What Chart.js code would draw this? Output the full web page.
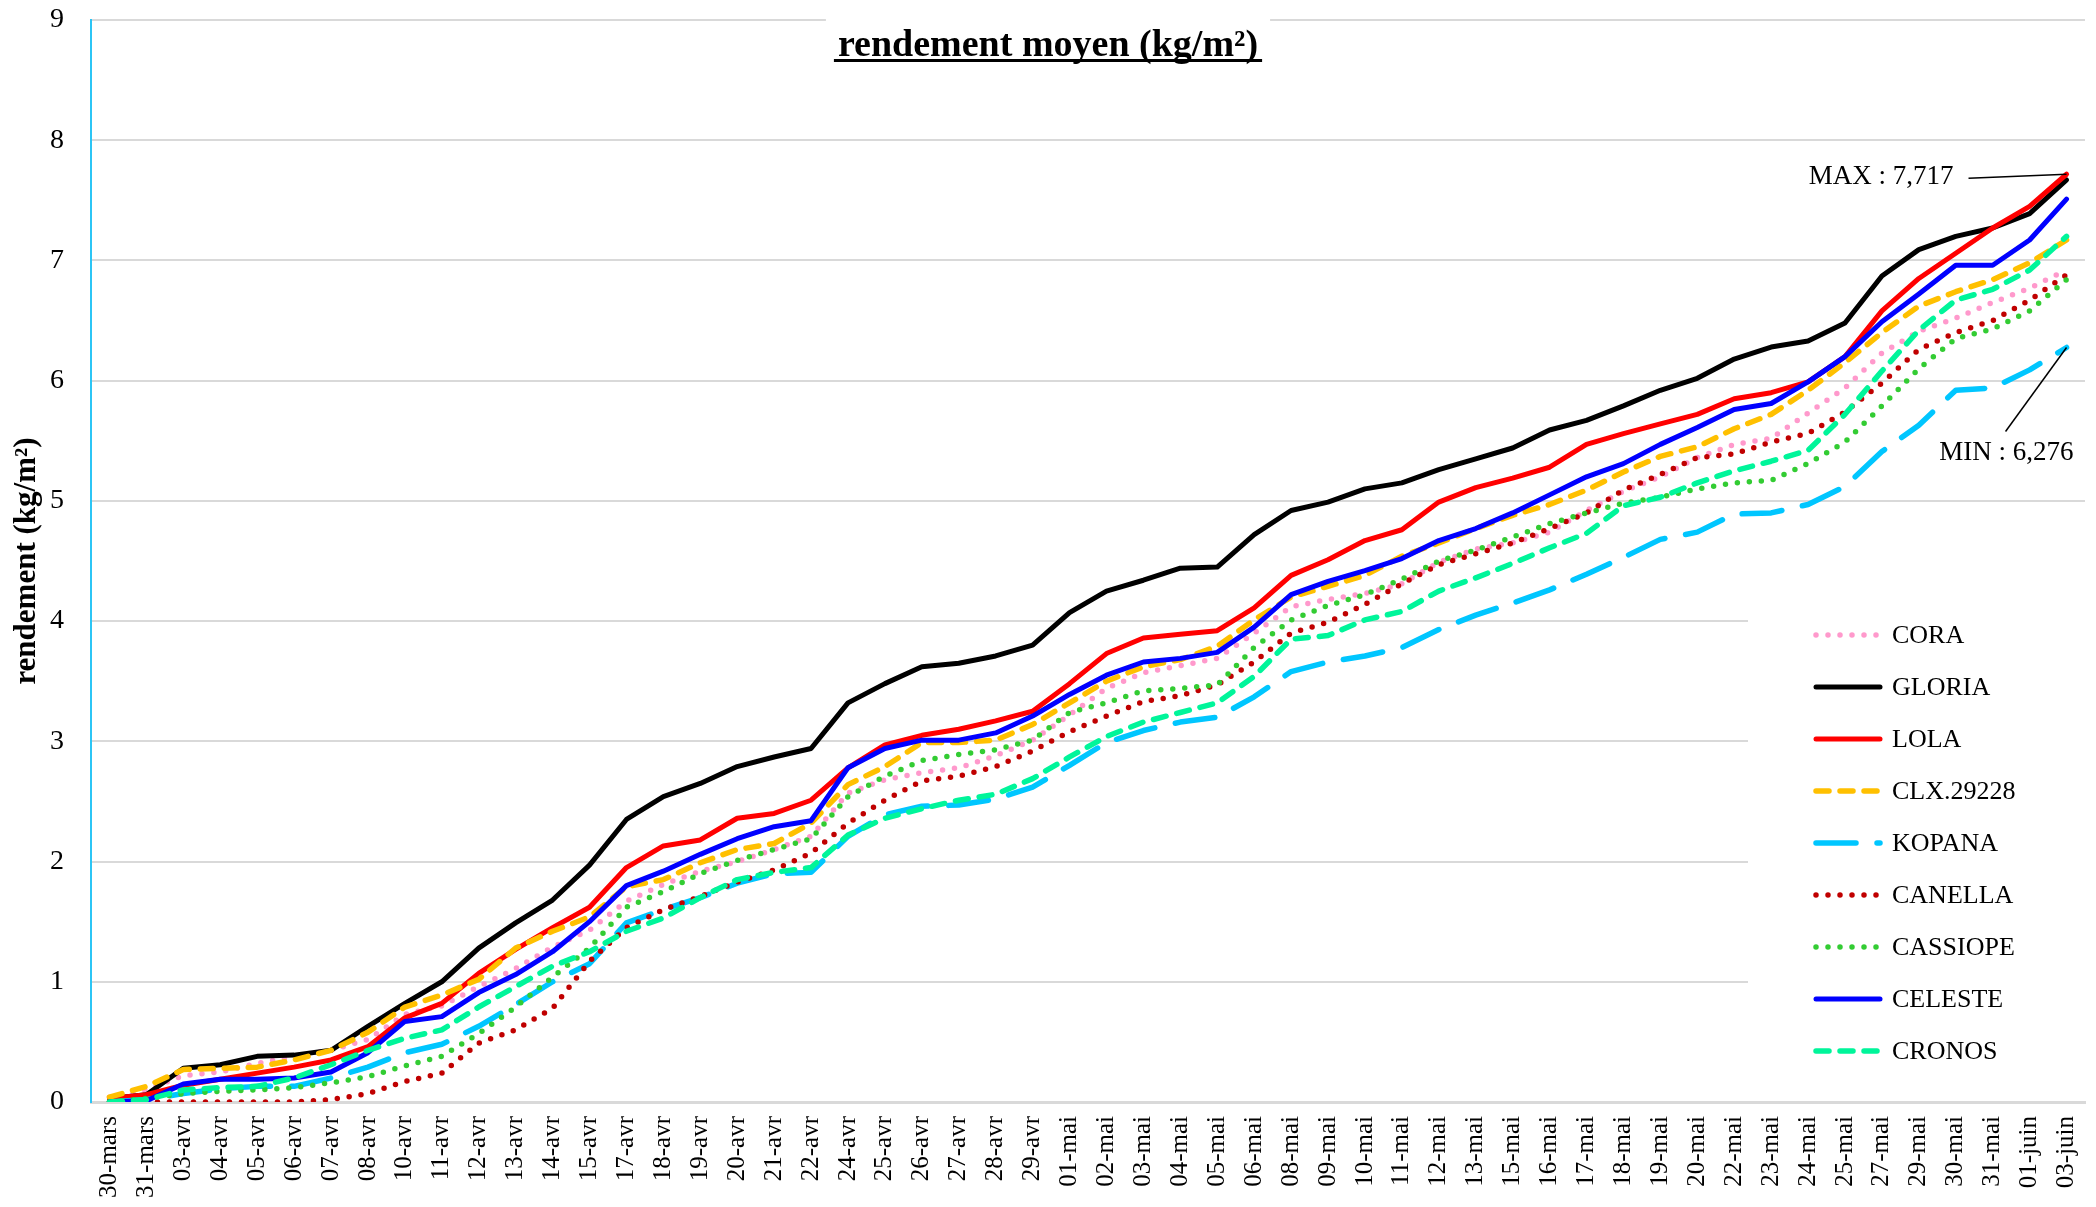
<!DOCTYPE html>
<html lang="fr">
<head>
<meta charset="utf-8">
<title>rendement moyen (kg/m²)</title>
<script src="https://cdn.jsdelivr.net/npm/chart.js@4.4.1/dist/chart.umd.min.js"></script>
<style>
  html, body { margin: 0; padding: 0; background: #fff; }
</style>
</head>
<body>
<canvas id="line-chart-rendement" width="2096" height="1207"></canvas>
<script>
// Données (rendement cumulé, kg/m²)
const dates = ['30-mars', '31-mars', '03-avr', '04-avr', '05-avr', '06-avr', '07-avr', '08-avr', '10-avr', '11-avr',
  '12-avr', '13-avr', '14-avr', '15-avr', '17-avr', '18-avr', '19-avr', '20-avr', '21-avr', '22-avr',
  '24-avr', '25-avr', '26-avr', '27-avr', '28-avr', '29-avr', '01-mai', '02-mai', '03-mai', '04-mai',
  '05-mai', '06-mai', '08-mai', '09-mai', '10-mai', '11-mai', '12-mai', '13-mai', '15-mai', '16-mai',
  '17-mai', '18-mai', '19-mai', '20-mai', '22-mai', '23-mai', '24-mai', '25-mai', '27-mai', '29-mai',
  '30-mai', '31-mai', '01-juin', '03-juin'];

const cora = [0.04, 0.10, 0.22, 0.25, 0.32, 0.38, 0.43, 0.52, 0.73, 0.80, 0.96, 1.11, 1.29, 1.43, 1.67, 1.81, 1.92, 2.00,
  2.10, 2.21, 2.57, 2.68, 2.74, 2.78, 2.88, 3.01, 3.22, 3.44, 3.57, 3.63, 3.69, 3.90, 4.12, 4.18, 4.23, 4.31,
  4.49, 4.60, 4.65, 4.74, 4.92, 5.08, 5.20, 5.36, 5.47, 5.52, 5.73, 5.94, 6.23, 6.41, 6.52, 6.65, 6.77, 6.92];
const gloria = [0.03, 0.06, 0.28, 0.31, 0.38, 0.39, 0.43, 0.63, 0.82, 1.00, 1.28, 1.49, 1.68, 1.97, 2.35, 2.54, 2.65, 2.79,
  2.87, 2.94, 3.32, 3.48, 3.62, 3.65, 3.71, 3.80, 4.07, 4.25, 4.34, 4.44, 4.45, 4.72, 4.92, 4.99, 5.10, 5.15,
  5.26, 5.35, 5.44, 5.59, 5.67, 5.79, 5.92, 6.02, 6.18, 6.28, 6.33, 6.48, 6.87, 7.09, 7.20, 7.27, 7.39, 7.67];
const lola = [0.03, 0.06, 0.14, 0.19, 0.24, 0.29, 0.35, 0.46, 0.70, 0.82, 1.07, 1.27, 1.45, 1.62, 1.95, 2.13, 2.18, 2.36,
  2.40, 2.51, 2.78, 2.97, 3.05, 3.10, 3.17, 3.25, 3.48, 3.73, 3.86, 3.89, 3.92, 4.11, 4.38, 4.51, 4.67, 4.76,
  4.99, 5.11, 5.19, 5.28, 5.47, 5.56, 5.64, 5.72, 5.85, 5.90, 5.99, 6.20, 6.58, 6.85, 7.06, 7.27, 7.45, 7.717];
const clx = [0.04, 0.13, 0.27, 0.28, 0.29, 0.35, 0.43, 0.58, 0.79, 0.89, 1.02, 1.28, 1.42, 1.54, 1.79, 1.85, 1.99, 2.10,
  2.15, 2.32, 2.64, 2.79, 2.99, 2.99, 3.01, 3.14, 3.32, 3.50, 3.62, 3.68, 3.79, 4.01, 4.20, 4.29, 4.38, 4.54,
  4.65, 4.77, 4.88, 4.97, 5.09, 5.24, 5.37, 5.45, 5.60, 5.72, 5.92, 6.15, 6.40, 6.62, 6.74, 6.84, 6.98, 7.17];
const kopana = [0, 0.02, 0.07, 0.11, 0.13, 0.13, 0.20, 0.29, 0.41, 0.48, 0.63, 0.81, 1.00, 1.15, 1.49, 1.60, 1.70, 1.82,
  1.90, 1.91, 2.21, 2.39, 2.46, 2.47, 2.52, 2.62, 2.80, 2.99, 3.09, 3.16, 3.20, 3.37, 3.58, 3.66, 3.71, 3.78,
  3.93, 4.05, 4.15, 4.26, 4.39, 4.53, 4.68, 4.74, 4.89, 4.90, 4.97, 5.12, 5.41, 5.63, 5.92, 5.94, 6.09, 6.276];
const canella = [0, 0, 0, 0, 0, 0, 0.02, 0.07, 0.17, 0.24, 0.49, 0.60, 0.78, 1.17, 1.45, 1.60, 1.71, 1.83,
  1.93, 2.07, 2.32, 2.51, 2.67, 2.71, 2.79, 2.92, 3.08, 3.21, 3.33, 3.38, 3.47, 3.66, 3.90, 3.99, 4.14, 4.31,
  4.47, 4.56, 4.65, 4.77, 4.90, 5.09, 5.22, 5.36, 5.39, 5.49, 5.56, 5.74, 5.98, 6.26, 6.40, 6.50, 6.67, 6.88];
const cassiope = [0, 0.03, 0.07, 0.09, 0.10, 0.12, 0.16, 0.21, 0.30, 0.38, 0.57, 0.79, 1.04, 1.28, 1.62, 1.75, 1.90, 2.01,
  2.10, 2.19, 2.54, 2.71, 2.84, 2.89, 2.93, 3.01, 3.24, 3.32, 3.42, 3.44, 3.47, 3.78, 4.01, 4.13, 4.22, 4.35,
  4.50, 4.59, 4.70, 4.81, 4.90, 4.98, 5.03, 5.10, 5.15, 5.17, 5.31, 5.49, 5.79, 6.10, 6.35, 6.43, 6.58, 6.84];
const celeste = [0, 0.01, 0.15, 0.19, 0.19, 0.20, 0.25, 0.41, 0.67, 0.71, 0.91, 1.06, 1.25, 1.50, 1.80, 1.92, 2.06, 2.19,
  2.29, 2.34, 2.78, 2.94, 3.01, 3.01, 3.07, 3.21, 3.39, 3.55, 3.66, 3.69, 3.74, 3.95, 4.22, 4.33, 4.42, 4.52,
  4.67, 4.77, 4.90, 5.05, 5.20, 5.31, 5.47, 5.61, 5.76, 5.81, 5.99, 6.20, 6.49, 6.72, 6.96, 6.96, 7.17, 7.51];
const cronos = [0, 0.02, 0.10, 0.12, 0.13, 0.20, 0.31, 0.43, 0.53, 0.60, 0.79, 0.96, 1.13, 1.25, 1.42, 1.53, 1.70, 1.85,
  1.91, 1.95, 2.22, 2.36, 2.44, 2.51, 2.56, 2.69, 2.87, 3.04, 3.16, 3.24, 3.32, 3.54, 3.85, 3.88, 4.01, 4.08,
  4.25, 4.36, 4.48, 4.61, 4.73, 4.96, 5.03, 5.15, 5.25, 5.33, 5.42, 5.72, 6.08, 6.42, 6.67, 6.76, 6.92, 7.20];

const yTicks = [0, 1, 2, 3, 4, 5, 6, 7, 8, 9];

const serif = "'Liberation Serif', 'DejaVu Serif', serif";
const dot = [0, 12];
const dash = [13, 11];
const longDash = [40, 21];

function serie(label, data, color, pattern, width) {
  return {
    label: label,
    data: data,
    borderColor: color,
    backgroundColor: color,
    borderWidth: width,
    borderDash: pattern,
    borderCapStyle: 'round',
    borderJoinStyle: 'round',
    pointRadius: 0,
    pointHoverRadius: 0,
    tension: 0,
    fill: false
  };
}

const series = [
  serie('CORA', cora, '#FF99CC', dot, 5.5),
  serie('GLORIA', gloria, '#000000', [], 5),
  serie('LOLA', lola, '#FF0000', [], 5),
  serie('CLX.29228', clx, '#FFC000', dash, 5.5),
  serie('KOPANA', kopana, '#00C6FF', longDash, 5.5),
  serie('CANELLA', canella, '#C00000', dot, 5.5),
  serie('CASSIOPE', cassiope, '#33CC33', dot, 5.5),
  serie('CELESTE', celeste, '#0000FF', [], 5),
  serie('CRONOS', cronos, '#00F59A', dash, 5.5)
];
// la dernière série est dessinée au-dessus (comme dans Excel)
series.forEach((s, i) => { s.order = series.length - i; });

function fmt(v) {
  return v.toFixed(3).replace('.', ',');
}

// titre souligné, légende et étiquettes MAX / MIN
const decor = {
  id: 'decor',
  beforeDatasetsDraw(chart) {
    const ctx = chart.ctx;
    const area = chart.chartArea;
    const boxLeft = 1748, boxTop = 590;
    ctx.save();
    ctx.fillStyle = '#fff';
    ctx.fillRect(boxLeft, boxTop, area.right - boxLeft, 500);
    chart.data.datasets.forEach((ds, i) => {
      const yRow = 635 + i * 52;
      ctx.beginPath();
      ctx.strokeStyle = ds.borderColor;
      ctx.lineWidth = ds.borderWidth;
      ctx.lineCap = ds.borderCapStyle;
      ctx.setLineDash(ds.borderDash);
      ctx.moveTo(1816, yRow);
      ctx.lineTo(1880, yRow);
      ctx.stroke();
      ctx.setLineDash([]);
      ctx.fillStyle = '#000';
      ctx.font = '26px ' + serif;
      ctx.textAlign = 'left';
      ctx.textBaseline = 'middle';
      ctx.fillText(ds.label, 1892, yRow + 1);
    });
    ctx.restore();
  },
  afterDraw(chart) {
    const ctx = chart.ctx;
    ctx.save();

    // titre
    const titre = 'rendement moyen (kg/m²)';
    ctx.font = 'bold 38px ' + serif;
    const w = ctx.measureText(titre).width;
    const cx = chart.width / 2;
    ctx.fillStyle = '#fff';
    ctx.fillRect(cx - w / 2 - 12, 14, w + 24, 56);
    ctx.fillStyle = '#000';
    ctx.textAlign = 'center';
    ctx.textBaseline = 'alphabetic';
    ctx.fillText(titre, cx, 56);
    ctx.fillRect(cx - w / 2 - 4, 59, w + 8, 3);

    // MAX / MIN sur la dernière date
    const last = dates.length - 1;
    let iMax = 0, iMin = 0;
    series.forEach((s, i) => {
      if (s.data[last] > series[iMax].data[last]) iMax = i;
      if (s.data[last] < series[iMin].data[last]) iMin = i;
    });
    const pMax = chart.getDatasetMeta(iMax).data[last];
    const pMin = chart.getDatasetMeta(iMin).data[last];

    ctx.font = '27px ' + serif;
    ctx.textBaseline = 'middle';
    ctx.textAlign = 'right';
    ctx.strokeStyle = '#000';
    ctx.lineWidth = 1.5;

    ctx.fillText('MAX : ' + fmt(series[iMax].data[last]), pMax.x - 113, pMax.y + 3);
    ctx.beginPath();
    ctx.moveTo(pMax.x - 98, pMax.y + 4);
    ctx.lineTo(pMax.x, pMax.y);
    ctx.stroke();

    ctx.fillText('MIN : ' + fmt(series[iMin].data[last]), pMin.x + 7, pMin.y + 105);
    ctx.beginPath();
    ctx.moveTo(pMin.x - 61, pMin.y + 84);
    ctx.lineTo(pMin.x, pMin.y);
    ctx.stroke();

    ctx.restore();
  }
};

const ctx = document.getElementById('line-chart-rendement').getContext('2d');

const chart = new Chart(ctx, {
  type: 'line',
  data: {
    labels: dates,
    datasets: series
  },
  options: {
    responsive: false,
    animation: false,
    devicePixelRatio: 1,
    layout: { padding: { top: 20, right: 11, left: 0, bottom: 0 } },
    plugins: {
      legend: { display: false },
      title: { display: false },
      tooltip: { enabled: false }
    },
    scales: {
      x: {
        type: 'category',
        offset: true,
        grid: { display: false, drawTicks: false },
        border: { color: '#D9D9D9', width: 3 },
        ticks: {
          autoSkip: false,
          minRotation: 90,
          maxRotation: 90,
          padding: 14,
          color: '#000',
          font: { family: serif, size: 25 }
        },
        afterFit: s => { s.height = 105; s.paddingLeft = 0; s.paddingRight = 0; }
      },
      y: {
        min: 0,
        max: 9,
        afterBuildTicks: s => { s.ticks = yTicks.map(v => ({ value: v })); },
        grid: { color: '#D9D9D9', lineWidth: 2, drawTicks: false },
        border: { color: '#2CC5F5', width: 2 },
        ticks: {
          padding: 27,
          color: '#000',
          font: { family: serif, size: 28 }
        },
        title: {
          display: true,
          text: 'rendement (kg/m²)',
          color: '#000',
          font: { family: serif, size: 31, weight: 'bold' },
          padding: { top: 8, bottom: 0 }
        },
        afterFit: s => { s.width = 91; s.paddingTop = 0; s.paddingBottom = 0; }
      }
    }
  },
  plugins: [decor]
});
</script>
</body>
</html>
